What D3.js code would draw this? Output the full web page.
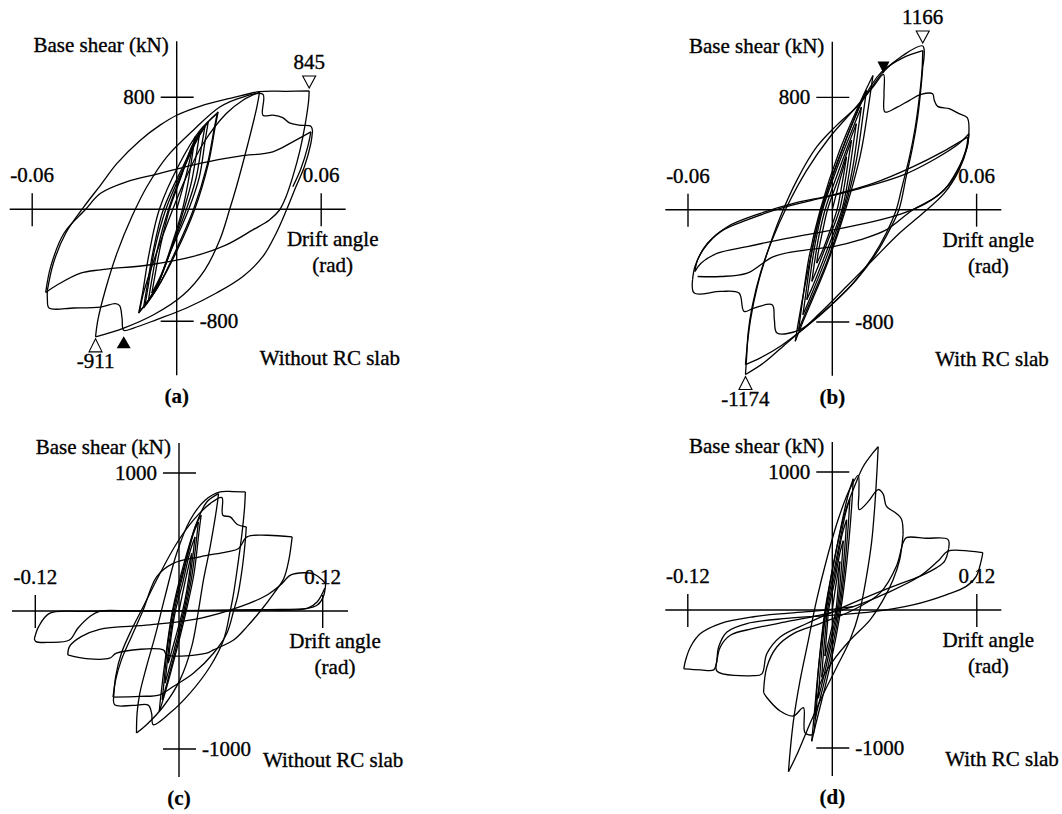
<!DOCTYPE html>
<html>
<head>
<meta charset="utf-8">
<script src="https://cdn.jsdelivr.net/npm/d3@7"></script>
<style>
  body { margin: 0; background: #fff; }
  svg { display: block; }
  text { font-family: "Liberation Serif", "Times New Roman", serif; font-size: 21px; fill: #000; stroke: #000; stroke-width: 0.35px; }
  .cap { font-weight: bold; stroke-width: 0.2px; }
</style>
</head>
<body>
<svg id="fig" width="1062" height="814"></svg>
<script>
// Base shear (kN) vs drift angle (rad) hysteresis records, [drift, shear] in loading order.

// (a) Without RC slab, cyclic test up to about 0.055 rad
const loopA = [
  [0,0],[0.0040,250],[0.0076,518],
  [0.0066,400],[0.0046,180],[0.0024,0],[-0.0020,-250],[-0.0065,-470],[-0.0103,-598],
  [-0.0090,-470],[-0.0066,-250],[-0.0030,0],[0.0020,240],[0.0060,440],[0.0096,553],
  [0.0085,430],[0.0062,200],[0.0030,0],[-0.0020,-270],[-0.0075,-520],[-0.0117,-646],
  [-0.0104,-510],[-0.0078,-270],[-0.0034,0],[0.0025,270],[0.0078,480],[0.0117,589],
  [0.0104,460],[0.0080,220],[0.0040,0],[-0.0022,-280],[-0.0085,-560],[-0.0131,-681],
  [-0.0118,-545],[-0.0092,-290],[-0.0045,0],[0.0030,300],[0.0092,520],[0.0131,624],
  [0.0118,490],[0.0094,230],[0.0050,0],[-0.0025,-300],[-0.0092,-590],[-0.0138,-705],
  [-0.0124,-560],[-0.0098,-300],[-0.0055,0],[0.0030,320],[0.0100,560],[0.0172,696],
  [0.0160,590],[0.0132,330],[0.0075,0],[0.0000,-300],[-0.0080,-560],[-0.0158,-741],
  [-0.0142,-600],[-0.0115,-320],[-0.0072,0],[0.0010,320],[0.0095,560],[0.0168,684],
  [0.0156,580],[0.0127,320],[0.0070,0],[-0.0005,-300],[-0.0085,-575],[-0.0154,-729],
  [-0.0138,-598],[-0.0089,-337],[-0.0028,-52],[0.0034,209],[0.0110,470],[0.0206,684],[0.0275,779],[0.0344,838],
  [0.0333,731],[0.0296,470],[0.0248,161],[0.0220,0],[0.0179,-218],[0.0117,-432],[0.0028,-610],[-0.0096,-753],[-0.0220,-848],[-0.0337,-911],
  [-0.0327,-788],[-0.0296,-575],[-0.0248,-313],[-0.0186,-52],[-0.0124,161],[-0.0041,375],[0.0069,565],[0.0179,731],[0.0275,802],[0.0358,821],
  [0.0358,672],[0.0399,672],[0.0440,655],[0.0468,617],[0.0509,601],[0.0557,594],[0.0564,560],
  [0.0557,470],[0.0530,304],[0.0495,161],[0.0457,0],[0.0413,-171],[0.0358,-337],[0.0275,-480],[0.0165,-598],[0.0041,-705],[-0.0083,-788],[-0.0179,-848],[-0.0220,-864],
  [-0.0227,-776],[-0.0237,-688],[-0.0255,-674],[-0.0316,-698],[-0.0427,-705],[-0.0530,-705],
  [-0.0537,-641],[-0.0537,-579],[-0.0512,-385],[-0.0461,-171],[-0.0385,19],[-0.0316,173],[-0.0248,328],[-0.0151,494],[-0.0069,601],[0,672],[0.0096,736],[0.0234,798],[0.0344,840],[0.0454,843],[0.0550,845],
  [0.0548,779],[0.0534,612],[0.0512,423],[0.0482,233],[0.0454,90],[0.0427,-5],[0.0385,-76],[0.0316,-147],[0.0206,-254],[0.0069,-337],[-0.0110,-396],[-0.0316,-432],[-0.0399,-456],[-0.0495,-539],[-0.0544,-594],
  [-0.0523,-408],[-0.0468,-171],[-0.0378,0],[-0.0316,114],[-0.0206,197],[-0.0069,256],[0.0096,328],[0.0261,380],[0.0399,411],[0.0482,482],[0.0557,553],
  [0.0544,446],[0.0516,292],[0.0482,161]
];

// (b) With RC slab, cyclic test up to about 0.057 rad
const loopB = [
  [0,0],[0.0030,200],[0.0059,376],
  [0.0052,300],[0.0036,140],[0.0020,0],[-0.0020,-200],[-0.0050,-330],[-0.0065,-381],
  [-0.0058,-300],[-0.0040,-150],[-0.0020,0],[0.0025,220],[0.0060,400],[0.0080,495],
  [0.0071,400],[0.0052,190],[0.0030,0],[-0.0020,-230],[-0.0065,-430],[-0.0085,-511],
  [-0.0076,-400],[-0.0056,-190],[-0.0030,0],[0.0025,270],[0.0075,500],[0.0100,613],
  [0.0090,500],[0.0068,240],[0.0040,0],[-0.0020,-280],[-0.0080,-540],[-0.0106,-641],
  [-0.0096,-520],[-0.0072,-250],[-0.0040,0],[0.0025,320],[0.0090,600],[0.0121,731],
  [0.0110,600],[0.0085,300],[0.0045,0],[-0.0020,-320],[-0.0093,-630],[-0.0122,-748],
  [-0.0111,-610],[-0.0085,-300],[-0.0045,0],[0.0025,360],[0.0105,700],[0.0142,850],
  [0.0130,700],[0.0100,350],[0.0050,0],[-0.0020,-360],[-0.0108,-720],[-0.0140,-854],
  [-0.0128,-700],[-0.0098,-350],[-0.0050,0],[0.0030,420],[0.0125,800],[0.0169,956],
  [0.0155,790],[0.0118,400],[0.0055,0],[-0.0020,-380],[-0.0120,-790],[-0.0154,-937],
  [-0.0140,-790],[-0.0100,-420],[-0.0045,0],[0.0040,420],[0.0120,760],[0.0204,980],[0.0293,1082],[0.0376,1134],
  [0.0373,992],[0.0362,802],[0.0345,589],[0.0321,376],[0.0290,163],[0.0266,0],[0.0224,-168],[0.0169,-334],[0.0087,-523],[-0.0010,-689],[-0.0106,-831],[-0.0216,-973],[-0.0299,-1056],[-0.0361,-1103],
  [-0.0354,-973],[-0.0340,-783],[-0.0312,-547],[-0.0271,-310],[-0.0216,-50],[-0.0147,211],[-0.0065,447],[0.0018,601],[0.0114,755],[0.0211,980],[0.0293,1098],[0.0376,1166],
  [0.0376,1015],[0.0369,873],[0.0355,660],[0.0334,447],[0.0307,234],[0.0277,0],[0.0238,-144],[0.0183,-310],[0.0100,-499],[0.0004,-665],[-0.0092,-807],[-0.0189,-949],[-0.0285,-1091],[-0.0361,-1174],
  [-0.0356,-1044],[-0.0350,-878],[-0.0333,-689],[-0.0299,-452],[-0.0250,-215],[-0.0189,21],[-0.0106,282],[-0.0010,518],[0.0087,708],[0.0169,873],[0.0213,963],
  [0.0215,826],[0.0219,696],[0.0266,727],[0.0321,779],[0.0369,821],[0.0417,826],[0.0424,779],[0.0438,736],[0.0486,720],[0.0527,684],[0.0561,656],[0.0568,554],
  [0.0561,447],[0.0527,282],[0.0465,116],[0.0376,-26],[0.0279,-168],[0.0169,-357],[0.0059,-547],[-0.0051,-736],[-0.0133,-854],[-0.0230,-878],[-0.0241,-783],[-0.0250,-677],[-0.0326,-701],[-0.0367,-724],[-0.0388,-594],[-0.0464,-582],[-0.0574,-594],
  [-0.0581,-499],[-0.0571,-405],[-0.0533,-275],[-0.0464,-156],[-0.0354,-73],[-0.0216,9],[-0.0051,80],[0.0114,151],[0.0293,246],[0.0431,365],[0.0527,471],[0.0568,542],
  [0.0559,436],[0.0520,282],[0.0465,140],[0.0389,45],[0.0293,-26],[0.0169,-85],[0.0004,-144],[-0.0189,-204],[-0.0354,-263],[-0.0477,-310],[-0.0546,-381],[-0.0571,-440],
  [-0.0560,-357],[-0.0519,-239],[-0.0436,-121],[-0.0299,-26],[-0.0161,45],[0,104],[0.0169,187],[0.0334,305],[0.0458,412],[0.0541,495],[0.0564,518],
  [0.0555,424],[0.0499,211],[0.0431,92],[0.0334,-2],[0.0224,-144],[0.0114,-215],[0.0004,-263],[-0.0106,-286],[-0.0244,-334],[-0.0354,-452],[-0.0464,-476],[-0.0560,-476]
];

// (c) Without RC slab, continued to about 0.12 rad
const loopC = [
  [0,0],[0.0050,210],[0.0106,417],
  [0.0094,320],[0.0065,150],[0.0030,0],[-0.0025,-180],[-0.0070,-320],[-0.0090,-378],
  [-0.0080,-290],[-0.0060,-150],[-0.0030,0],[0.0030,200],[0.0095,440],[0.0134,537],
  [0.0120,430],[0.0085,200],[0.0040,0],[-0.0025,-230],[-0.0092,-450],[-0.0117,-523],
  [-0.0104,-420],[-0.0078,-210],[-0.0040,0],[0.0035,270],[0.0120,560],[0.0162,646],
  [0.0146,520],[0.0105,240],[0.0050,0],[-0.0025,-270],[-0.0112,-560],[-0.0140,-643],
  [-0.0126,-520],[-0.0095,-250],[-0.0050,0],[0.0040,310],[0.0140,620],[0.0185,694],
  [0.0168,580],[0.0125,270],[0.0060,0],[-0.0025,-300],[-0.0132,-640],[-0.0165,-728],
  [-0.0150,-600],[-0.0110,-320],[-0.0055,0],[0.0040,340],[0.0148,640],[0.0232,790],[0.0330,851],
  [0.0316,754],[0.0260,465],[0.0204,224],[0.0162,0],[0.0106,-258],[0.0008,-499],[-0.0131,-692],[-0.0271,-824],[-0.0355,-884],
  [-0.0350,-740],[-0.0327,-595],[-0.0271,-402],[-0.0201,-186],[-0.0117,104],[-0.0020,417],[0.0092,658],[0.0218,803],[0.0344,863],[0.0456,865],[0.0554,863],
  [0.0548,754],[0.0526,562],[0.0489,321],[0.0456,128],[0.0428,0],[0.0372,-210],[0.0260,-402],[0.0092,-595],[-0.0076,-740],[-0.0215,-824],[-0.0229,-740],[-0.0257,-682],[-0.0383,-684],[-0.0537,-680],
  [-0.0545,-619],[-0.0529,-475],[-0.0481,-306],[-0.0397,-137],[-0.0299,31],[-0.0159,272],[-0.0020,489],[0.0120,658],[0.0260,778],[0.0358,822],[0.0366,694],[0.0428,682],[0.0484,629],[0.0562,610],
  [0.0554,513],[0.0526,296],[0.0489,104],[0.0456,0],[0.0400,-161],[0.0288,-306],[0.0120,-451],[-0.0048,-547],[-0.0159,-607],[-0.0327,-619],[-0.0551,-624],
  [-0.0529,-499],[-0.0481,-354],[-0.0397,-186],[-0.0299,7],[-0.0187,248],[-0.0048,345],[0.0176,393],[0.0400,429],[0.0498,453],[0.0568,537],[0.0736,549],[0.0945,537],
  [0.0917,369],[0.0875,236],[0.0792,128],[0.0680,0],[0.0568,-113],[0.0456,-210],[0.0288,-282],[0.0232,-306],[-0.0103,-318],[-0.0131,-282],[-0.0523,-306],[-0.0579,-342],[-0.0775,-345],[-0.0929,-318],
  [-0.0915,-258],[-0.0817,-186],[-0.0663,-133],[-0.0243,-101],[0.0176,-53],[0.0512,31],[0.0736,116],[0.0847,188],[0.0931,260],[0.1043,277],[0.1127,267],[0.1197,224],[0.1225,195],
  [0.1205,104],[0.1155,43],[0.1071,19],[0.0736,10],[0.0176,5],[-0.0383,0],[-0.0663,-2],[-0.0747,-41],[-0.0845,-125],[-0.0915,-210],[-0.1082,-227],[-0.1194,-222],[-0.1208,-202],
  [-0.1172,-113],[-0.1082,-17],[-0.0803,-2],[-0.0103,2],[0.0596,7],[0.1071,19],[0.1155,67],[0.1217,164]
];

// (d) With RC slab, continued to about 0.125 rad
const loopD = [
  [0,0],[0.0030,180],[0.0063,351],
  [0.0056,260],[0.0044,120],[0.0030,0],[-0.0015,-170],[-0.0048,-290],[-0.0061,-334],
  [-0.0054,-250],[-0.0042,-120],[-0.0030,0],[0.0020,210],[0.0065,420],[0.0091,502],
  [0.0082,380],[0.0063,180],[0.0040,0],[-0.0015,-220],[-0.0068,-420],[-0.0088,-488],
  [-0.0078,-360],[-0.0060,-180],[-0.0040,0],[0.0020,260],[0.0085,560],[0.0119,654],
  [0.0108,500],[0.0083,240],[0.0050,0],[-0.0015,-270],[-0.0090,-550],[-0.0116,-639],
  [-0.0104,-480],[-0.0080,-230],[-0.0050,0],[0.0025,330],[0.0110,700],[0.0146,807],
  [0.0133,620],[0.0102,300],[0.0060,0],[-0.0015,-330],[-0.0112,-680],[-0.0143,-790],
  [-0.0130,-600],[-0.0100,-290],[-0.0060,0],[0.0025,400],[0.0130,830],[0.0174,951],
  [0.0160,740],[0.0122,360],[0.0070,0],[-0.0015,-390],[-0.0135,-820],[-0.0171,-951],
  [-0.0150,-756],[-0.0110,-380],[-0.0055,0],[0.0020,380],[0.0110,720],[0.0200,930],[0.0257,1040],[0.0339,1140],[0.0381,1183],
  [0.0372,1024],[0.0353,756],[0.0326,488],[0.0284,244],[0.0229,0],[0.0146,-220],[0.0036,-415],[-0.0102,-659],[-0.0212,-878],[-0.0295,-1049],[-0.0364,-1171],
  [-0.0350,-1024],[-0.0323,-805],[-0.0268,-512],[-0.0199,-220],[-0.0130,73],[-0.0047,366],[0.0050,659],[0.0146,878],[0.0215,976],[0.0221,854],[0.0223,727],[0.0298,785],[0.0381,873],[0.0422,841],[0.0450,751],[0.0532,700],[0.0574,659],[0.0588,549],
  [0.0560,366],[0.0505,220],[0.0422,73],[0.0312,-73],[0.0146,-220],[0.0008,-366],[-0.0102,-537],[-0.0143,-805],[-0.0163,-902],[-0.0226,-890],[-0.0240,-707],[-0.0323,-768],[-0.0433,-732],[-0.0544,-634],[-0.0571,-598],
  [-0.0544,-415],[-0.0461,-268],[-0.0323,-171],[-0.0102,-98],[0.0174,0],[0.0395,122],[0.0532,317],[0.0588,488],[0.0615,524],[0.0781,520],[0.0960,512],[0.0966,444],
  [0.0933,354],[0.0864,305],[0.0726,244],[0.0505,171],[0.0229,73],[0.0008,-12],[-0.0212,-98],[-0.0433,-195],[-0.0544,-317],[-0.0585,-463],[-0.0654,-476],[-0.0957,-444],
  [-0.0957,-366],[-0.0930,-268],[-0.0847,-183],[-0.0654,-134],[-0.0378,-85],[-0.0102,-37],[0.0174,24],[0.0450,122],[0.0726,244],[0.0891,366],[0.0960,427],[0.1139,427],[0.1250,415],
  [0.1236,354],[0.1195,244],[0.1112,171],[0.0946,110],[0.0670,37],[0.0339,-12],[0.0008,-37],[-0.0378,-61],[-0.0709,-98],[-0.0875,-159],[-0.0944,-268],[-0.0963,-390],[-0.0985,-434],[-0.1095,-434],[-0.1233,-427],
  [-0.1219,-366],[-0.1178,-268],[-0.1095,-171],[-0.0930,-98],[-0.0654,-49],[-0.0378,-24],[-0.0102,-5],[0.0174,24]
];

// Axis ticks
const driftTicksAB = [-0.06, 0.06];
const driftTicksCD = [-0.12, 0.12];
const shearTicksAB = [-800, 800];
const shearTicksCD = [-1000, 1000];

// Marked peaks and fracture points: open triangles = peak shear, filled = fracture
const marksA = [
  { drift: 0.0550, shear: 845, kind: "peakPos" },
  { drift: -0.0337, shear: -911, kind: "peakNeg" },
  { drift: -0.0220, shear: -864, kind: "fractureNeg" }
];
const marksB = [
  { drift: 0.0376, shear: 1166, kind: "peakPos" },
  { drift: -0.0361, shear: -1174, kind: "peakNeg" },
  { drift: 0.0213, shear: 963, kind: "fracturePos" }
];

const captions = ["(a)", "(b)", "(c)", "(d)"];
const slabNotes = ["Without RC slab", "With RC slab", "Without RC slab", "With RC slab"];

// Panel layout (pixel frame of each small plot)
const panels = [
  { loop: loopA, xt: driftTicksAB, yt: shearTicksAB, ox: 176.7, oy: 209.3, xSpan: 144.5, ySpan: 112.0, marks: marksA, noteDx: 83 },
  { loop: loopB, xt: driftTicksAB, yt: shearTicksAB, ox: 832.3, oy: 209.7, xSpan: 144.3, ySpan: 112.3, marks: marksB, noteDx: 103 },
  { loop: loopC, xt: driftTicksCD, yt: shearTicksCD, ox: 179.0, oy: 611.0, xSpan: 143.7, ySpan: 138.0, marks: [], noteDx: 84 },
  { loop: loopD, xt: driftTicksCD, yt: shearTicksCD, ox: 832.3, oy: 610.0, xSpan: 144.5, ySpan: 138.0, marks: [], noteDx: 113 }
];

const svg = d3.select("#fig");

// Break a load path into half-cycles wherever the drift direction reverses
function halfCycles(pts) {
  const out = [];
  let cur = [pts[0]], dir = 0;
  for (let i = 1; i < pts.length; i++) {
    const s = Math.sign(pts[i][0] - pts[i - 1][0]);
    if (s !== 0 && dir !== 0 && s !== dir) { out.push(cur); cur = [pts[i - 1]]; }
    if (s !== 0) dir = s;
    cur.push(pts[i]);
  }
  out.push(cur);
  return out;
}

function tri(cx, apexY, up, w, h) {
  // apex at (cx, apexY); up=true means apex on top
  const by = up ? apexY + h : apexY - h;
  return `M${cx},${apexY}L${cx - w / 2},${by}L${cx + w / 2},${by}Z`;
}

panels.forEach((p, i) => {
  const g = svg.append("g");
  const xMax = p.xt[1], yMax = p.yt[1];
  const x = d3.scaleLinear().domain([-xMax, xMax]).range([p.ox - p.xSpan, p.ox + p.xSpan]);
  const y = d3.scaleLinear().domain([-yMax, yMax]).range([p.oy + p.ySpan, p.oy - p.ySpan]);

  // axes through the origin
  const axis = g.append("g").attr("stroke", "#000").attr("stroke-width", 1.4);
  axis.append("line").attr("x1", p.ox - 167).attr("x2", p.ox + 169).attr("y1", p.oy).attr("y2", p.oy);
  axis.append("line").attr("x1", p.ox).attr("x2", p.ox).attr("y1", p.oy - 168).attr("y2", p.oy + 166);
  p.xt.forEach(t => {
    axis.append("line").attr("x1", x(t)).attr("x2", x(t)).attr("y1", p.oy - 16).attr("y2", p.oy + 17);
  });
  p.yt.forEach(t => {
    axis.append("line").attr("x1", p.ox - 16).attr("x2", p.ox + 17).attr("y1", y(t)).attr("y2", y(t));
  });

  // hysteresis curve
  const line = d3.line().x(d => x(d[0])).y(d => y(d[1])).curve(d3.curveCatmullRom.alpha(0.5));
  g.append("g").selectAll("path").data(halfCycles(p.loop)).join("path")
    .attr("d", line)
    .attr("fill", "none")
    .attr("stroke", "#000")
    .attr("stroke-width", 1.3)
    .attr("stroke-linejoin", "round");

  // tick labels
  p.xt.forEach(t => {
    g.append("text").attr("x", x(t)).attr("y", p.oy - 27).attr("text-anchor", "middle").text(String(t));
  });
  p.yt.forEach(t => {
    g.append("text")
      .attr("x", t > 0 ? p.ox - 22 : p.ox + 23)
      .attr("y", y(t) + 7)
      .attr("text-anchor", t > 0 ? "end" : "start")
      .text(String(t));
  });

  // titles and notes
  g.append("text").attr("x", p.ox - 8).attr("y", p.oy - 157).attr("text-anchor", "end").text("Base shear (kN)");
  g.append("text").attr("x", p.ox + 156).attr("y", p.oy + 37).attr("text-anchor", "middle").text("Drift angle");
  g.append("text").attr("x", p.ox + 156).attr("y", p.oy + 63).attr("text-anchor", "middle").text("(rad)");
  g.append("text").attr("x", p.ox + p.noteDx).attr("y", p.oy + 156).text(slabNotes[i]);
  g.append("text").attr("class", "cap").attr("x", p.ox).attr("y", p.oy + 194).attr("text-anchor", "middle").text(captions[i]);

  // peak / fracture markers
  p.marks.forEach(m => {
    const cx = x(m.drift), cy = y(m.shear);
    if (m.kind === "peakPos") {
      g.append("path").attr("d", tri(cx, cy - 3, false, 13, 12)).attr("fill", "#fff").attr("stroke", "#000").attr("stroke-width", 1.1);
      g.append("text").attr("x", cx).attr("y", cy - 22).attr("text-anchor", "middle").text(String(m.shear));
    } else if (m.kind === "peakNeg") {
      g.append("path").attr("d", tri(cx, cy + 2, true, 13, 13)).attr("fill", "#fff").attr("stroke", "#000").attr("stroke-width", 1.1);
      g.append("text").attr("x", cx).attr("y", cy + 31).attr("text-anchor", "middle").text(String(m.shear));
    } else if (m.kind === "fractureNeg") {
      g.append("path").attr("d", tri(cx, cy + 6, true, 14, 12)).attr("fill", "#000");
    } else {
      g.append("path").attr("d", tri(cx, cy - 1, false, 12, 12)).attr("fill", "#000");
    }
  });
});
</script>
</body>
</html>
